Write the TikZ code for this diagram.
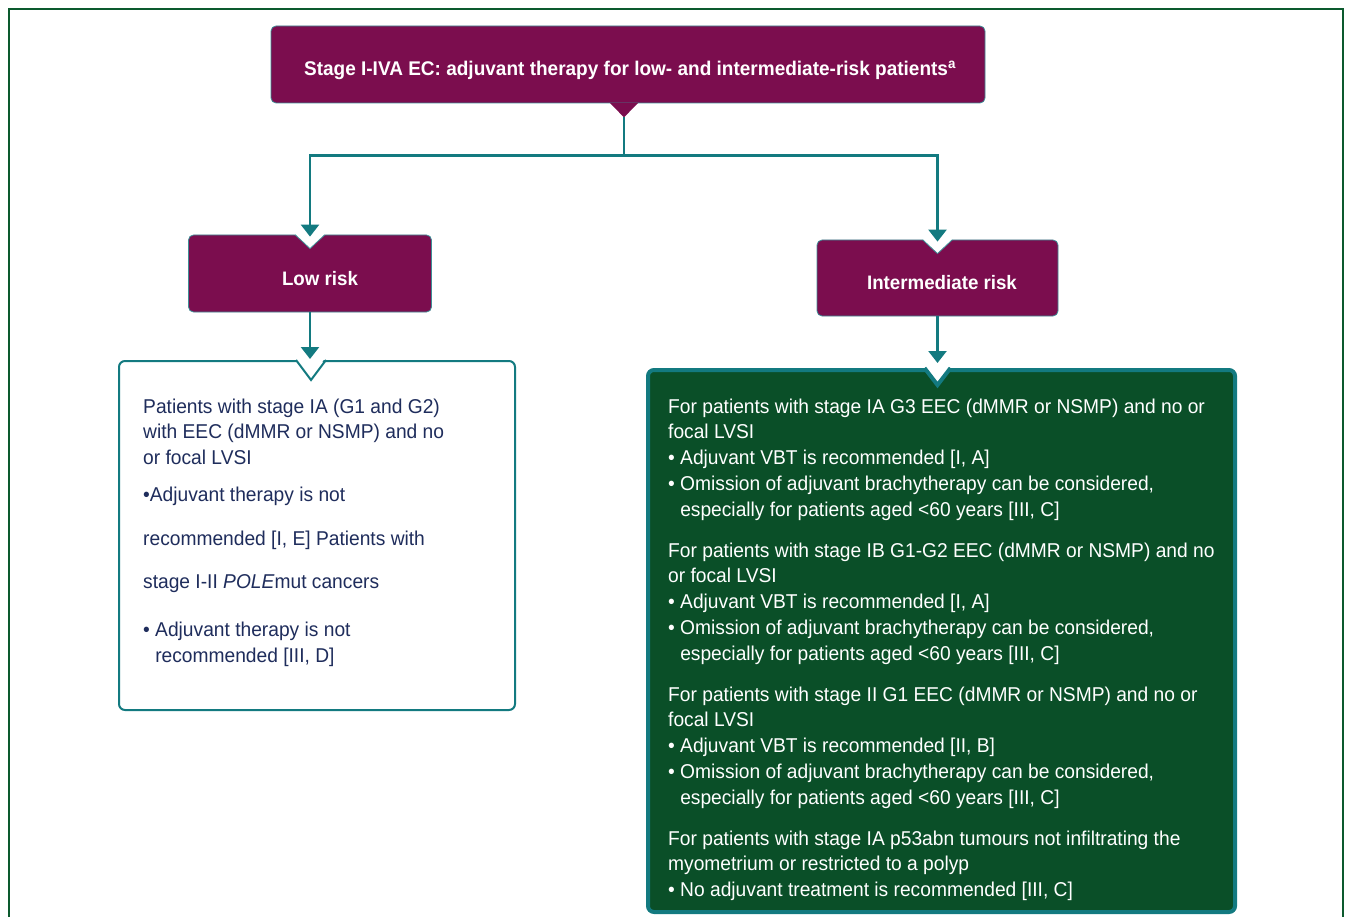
\documentclass[tikz,border=0pt]{standalone}
\usepackage{fontspec}
\setmainfont[FakeStretch=0.96]{Liberation Sans}
\usetikzlibrary{arrows.meta,calc}
\definecolor{plum}{HTML}{7B0D4E}
\definecolor{tealline}{HTML}{137A80}
\definecolor{tealedge}{HTML}{3E8E96}
\definecolor{boxgreen}{HTML}{0A4F28}
\definecolor{framegreen}{HTML}{0C5A2E}
\definecolor{navytext}{HTML}{1F2D5C}

\begin{document}
\begin{tikzpicture}[x=1pt,y=-1pt,
  riskbox/.style={fill=plum, draw=tealedge, line width=0.8pt, rounded corners=5pt,
    text=white, font=\bfseries\fontsize{19.5}{22}\selectfont, inner sep=0pt},
  link/.style={draw=tealline, line width=2.5pt, -{Triangle[width=18pt,length=12pt]}},
  bodytext/.style={anchor=north west, align=left, inner sep=0pt,
    font=\fontsize{20}{25.75}\selectfont}]
\def\notch{14};
\useasboundingbox (0,0) rectangle (1346,917);
%\draw[help lines,step=100] (0,0) grid (1346,917);

% outer frame
\draw[framegreen, line width=2.5pt] (9,9) rectangle (1343,960);

% top box
\node[riskbox, minimum width=714pt, minimum height=77pt, font=\bfseries\fontsize{19.8}{22}\selectfont]
  (title) at (628,64.5)
  {\hspace*{4pt}\raisebox{0pt}[23pt][0pt]{Stage I-IVA EC: adjuvant therapy for low- and intermediate-risk patients\textsuperscript{a}}};
\coordinate (tip) at ($(title.south)+(-4,\notch)$);
\fill[plum] ($(title.south)+(-18,-0.4)$) -- (tip) -- ($(title.south)+(10,-0.4)$) -- cycle;

% risk boxes
\node[riskbox, minimum width=243pt, minimum height=77pt] (low) at (310,273.5)
  {\hspace*{20pt}\raisebox{0pt}[23pt][0pt]{Low risk}};
\node[riskbox, minimum width=241pt, minimum height=76pt] (mid) at (937.5,278)
  {\hspace*{9pt}\raisebox{0pt}[24pt][0pt]{Intermediate risk}};
\foreach \b in {low,mid}{
\fill[white] ($(\b.north)+(-16,-1)$) -- ($(\b.north)+(0,\notch)$) -- ($(\b.north)+(16,-1)$) -- cycle;
\draw[tealedge, line width=0.8pt] ($(\b.north)+(-15,0)$) -- ($(\b.north)+(0,\notch)$) -- ($(\b.north)+(15,0)$);
}
\draw[link] (tip) -- ++(0,38) -| ($(low.north)+(0,2)$);
\draw[link] (tip) -- ++(0,38) -| ($(mid.north)+(0,2)$);

% lower panels
\node[draw=tealline, fill=white, line width=2pt, rounded corners=6pt,
  minimum width=396pt, minimum height=349pt] (lowpanel) at (317,535.5) {};
\node[draw=tealline, fill=boxgreen, line width=4pt, rounded corners=6pt,
  minimum width=587pt, minimum height=542pt] (midpanel) at (941.5,641) {};

\coordinate (lowdip) at (low.south |- lowpanel.north);
\coordinate (middip) at (mid.south |- midpanel.north);
\fill[white] ($(lowdip)+(-15,-2)$) -- ($(lowdip)+(0,20)$) -- ($(lowdip)+(15,-2)$) -- cycle;
\draw[tealline, line width=2pt] ($(lowdip)+(-14,0)$) -- ($(lowdip)+(1,20)$) -- ($(lowdip)+(16,0)$);
\fill[white] ($(middip)+(-15,-3)$) -- ($(middip)+(0,19)$) -- ($(middip)+(15,-3)$) -- cycle;
\draw[tealline, line width=4pt] ($(middip)+(-13,0)$) -- ($(middip)+(0,17)$) -- ($(middip)+(13,0)$);

\draw[link] (low.south) -- ($(lowdip)+(0,-1)$);
\draw[link] (mid.south) -- ($(middip)+(0,-5)$);

% panel texts
\node[bodytext, text=navytext] (lowtxt) at (143,398.5) {%
Patients with stage IA (G1 and G2)\\
with EEC (dMMR or NSMP) and no\\
or focal LVSI\\[11pt]
•Adjuvant therapy is not\\[18pt]
recommended [I, E] Patients with\\[18pt]
stage I-II \textit{POLE}mut cancers\\[22pt]
• Adjuvant therapy is not\\
\phantom{• }recommended [III, D]};

\node[bodytext, text=white] (midtxt) at (668,398.5) {%
For patients with stage IA G3 EEC (dMMR or NSMP) and no or\\
focal LVSI\\
• Adjuvant VBT is recommended [I, A]\\
• Omission of adjuvant brachytherapy can be considered,\\
\phantom{• }especially for patients aged <60 years [III, C]\\[15.25pt]
For patients with stage IB G1-G2 EEC (dMMR or NSMP) and no\\
or focal LVSI\\
• Adjuvant VBT is recommended [I, A]\\
• Omission of adjuvant brachytherapy can be considered,\\
\phantom{• }especially for patients aged <60 years [III, C]\\[15.25pt]
For patients with stage II G1 EEC (dMMR or NSMP) and no or\\
focal LVSI\\
• Adjuvant VBT is recommended [II, B]\\
• Omission of adjuvant brachytherapy can be considered,\\
\phantom{• }especially for patients aged <60 years [III, C]\\[15.25pt]
For patients with stage IA p53abn tumours not infiltrating the\\
myometrium or restricted to a polyp\\
• No adjuvant treatment is recommended [III, C]};

\end{tikzpicture}
\end{document}
